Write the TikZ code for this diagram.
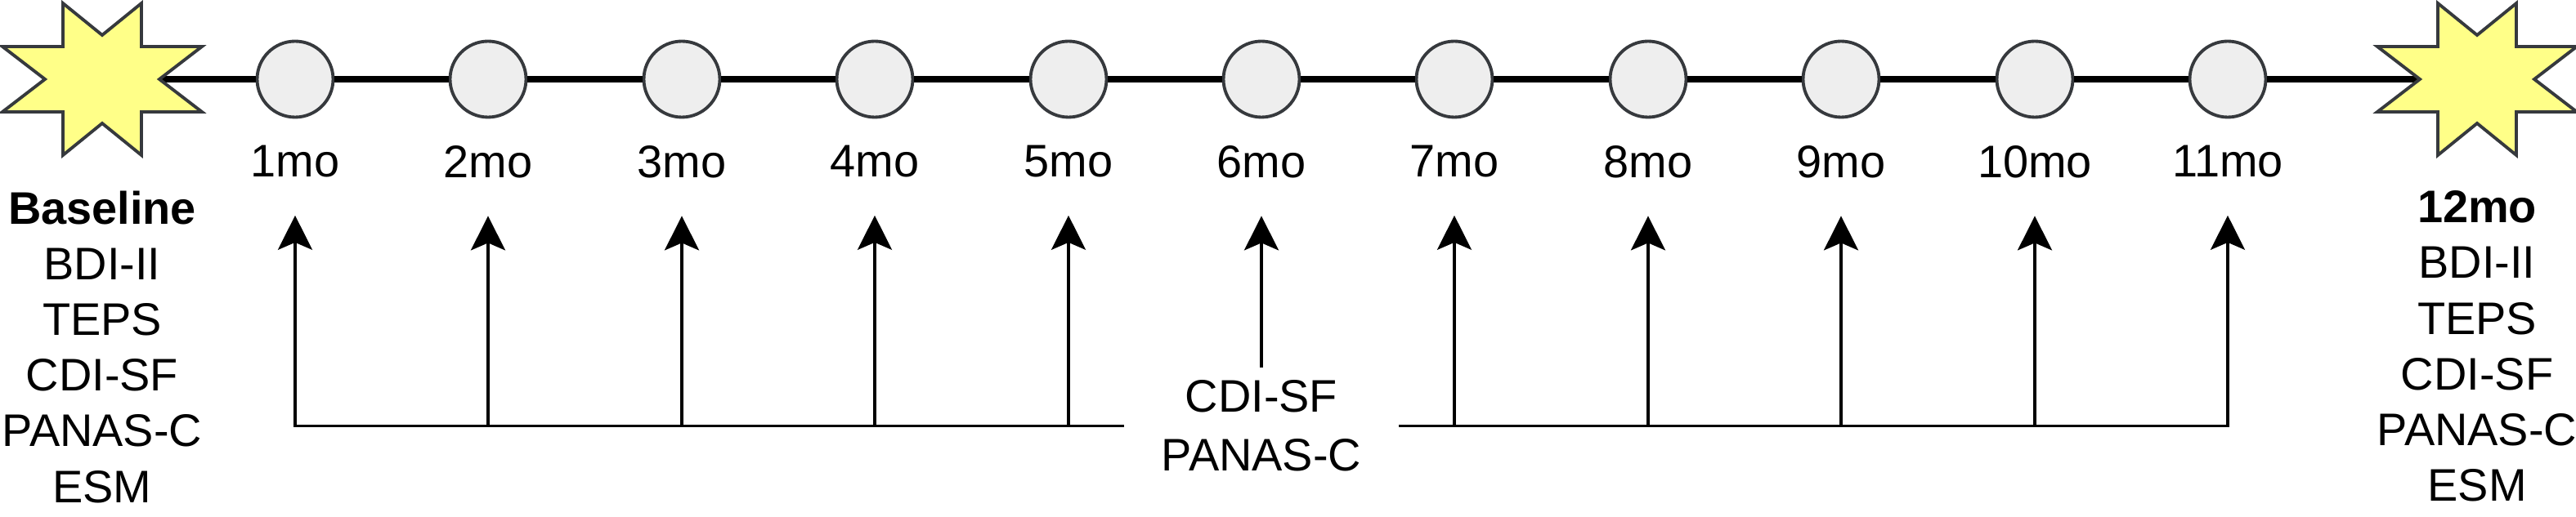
\documentclass[tikz,border=0pt]{standalone}
\usepackage{fontspec}
\setmainfont{Liberation Sans}
\usetikzlibrary{positioning,arrows.meta}

\definecolor{burstfill}{HTML}{FFFF88}
\definecolor{outline}{HTML}{36393D}
\definecolor{visitfill}{HTML}{EEEEEE}

\tikzset{
  timeline/.style={line width=2.3pt},
  visit/.style={circle,draw=outline,fill=visitfill,line width=1.1pt,minimum size=0.93cm,inner sep=0pt},
  burst/.style={draw=outline,fill=burstfill,line width=1.1pt,line join=miter},
  mo/.style={font=\fontsize{15.9}{19.4}\selectfont,inner sep=0pt},
  measures/.style={font=\fontsize{15.9}{19.4}\selectfont,align=center,inner sep=0pt},
  feed/.style={line width=1pt,-{Stealth[length=0.42cm,width=0.42cm,inset=0.09cm]}},
}

% eight-point burst, drawn round the point it is shifted to
\def\burstpath{(-1.22,0.40) -- (-0.48,0.40) -- (-0.48,0.93) -- (0,0.54) -- (0.48,0.93) -- (0.48,0.40) -- (1.22,0.40) -- (0.70,0) -- (1.22,-0.40) -- (0.48,-0.40) -- (0.48,-0.93) -- (0,-0.54) -- (-0.48,-0.93) -- (-0.48,-0.40) -- (-1.22,-0.40) -- (-0.70,0) -- cycle}

\begin{document}
\begin{tikzpicture}

      \useasboundingbox (0,0) rectangle (31.51,-6.33);

      \coordinate (base)  at (1.25,-0.97);
      \coordinate (final) at (30.30,-0.97);

      \begin{scope}[every node/.style={visit}]
        \node (m1)  at (3.61,-0.97)  {};
        \node (m2)  at (5.97,-0.97)  {};
        \node (m3)  at (8.34,-0.97)  {};
        \node (m4)  at (10.70,-0.97) {};
        \node (m5)  at (13.07,-0.97) {};
        \node (m6)  at (15.43,-0.97) {};
        \node (m7)  at (17.79,-0.97) {};
        \node (m8)  at (20.16,-0.97) {};
        \node (m9)  at (22.52,-0.97) {};
        \node (m10) at (24.89,-0.97) {};
        \node (m11) at (27.25,-0.97) {};
      \end{scope}

      \draw[timeline] (base) -- (m1) -- (m2) -- (m3) -- (m4) -- (m5) -- (m6)
        -- (m7) -- (m8) -- (m9) -- (m10) -- (m11) -- (final);

      \filldraw[burst,shift={(base)}]  \burstpath;
      \filldraw[burst,shift={(final)}] \burstpath;

      \begin{scope}[every node/.style={mo}]
        \node[below=0.32cm of m1]  (l1)  {1mo};
        \node[below=0.32cm of m2]  (l2)  {2mo};
        \node[below=0.32cm of m3]  (l3)  {3mo};
        \node[below=0.32cm of m4]  (l4)  {4mo};
        \node[below=0.32cm of m5]  (l5)  {5mo};
        \node[below=0.32cm of m6]  (l6)  {6mo};
        \node[below=0.32cm of m7]  (l7)  {7mo};
        \node[below=0.32cm of m8]  (l8)  {8mo};
        \node[below=0.32cm of m9]  (l9)  {9mo};
        \node[below=0.32cm of m10] (l10) {10mo};
        \node[below=0.32cm of m11] (l11) {11mo};
      \end{scope}

      \node[measures,anchor=north] (basetxt)  at (1.25,-2.33)
        {\textbf{Baseline}\\BDI-II\\TEPS\\CDI-SF\\PANAS-C\\ESM};
      \node[measures,anchor=north] (finaltxt) at (30.30,-2.33)
        {\textbf{12mo}\\BDI-II\\TEPS\\CDI-SF\\PANAS-C\\ESM};

      \node[measures,font=\fontsize{15.9}{20.5}\selectfont,inner xsep=0.45cm,inner ysep=0.15cm,anchor=north]
        (mid) at (15.43,-4.50) {CDI-SF\\PANAS-C};

      % monthly measures feed every visit
      \draw[feed] (mid.west) -- (l1 |- mid.west) -- ([yshift=-4.6mm]l1.south);
      \draw[feed] (l2 |- mid.west) -- ([yshift=-4.6mm]l2.south);
      \draw[feed] (l3 |- mid.west) -- ([yshift=-4.6mm]l3.south);
      \draw[feed] (l4 |- mid.west) -- ([yshift=-4.6mm]l4.south);
      \draw[feed] (l5 |- mid.west) -- ([yshift=-4.6mm]l5.south);
      \draw[feed] (mid.north) -- ([yshift=-4.6mm]l6.south);
      \draw[feed] (l7 |- mid.east) -- ([yshift=-4.6mm]l7.south);
      \draw[feed] (l8 |- mid.east) -- ([yshift=-4.6mm]l8.south);
      \draw[feed] (l9 |- mid.east) -- ([yshift=-4.6mm]l9.south);
      \draw[feed] (l10 |- mid.east) -- ([yshift=-4.6mm]l10.south);
      \draw[feed] (mid.east) -- (l11 |- mid.east) -- ([yshift=-4.6mm]l11.south);

\end{tikzpicture}
\end{document}
